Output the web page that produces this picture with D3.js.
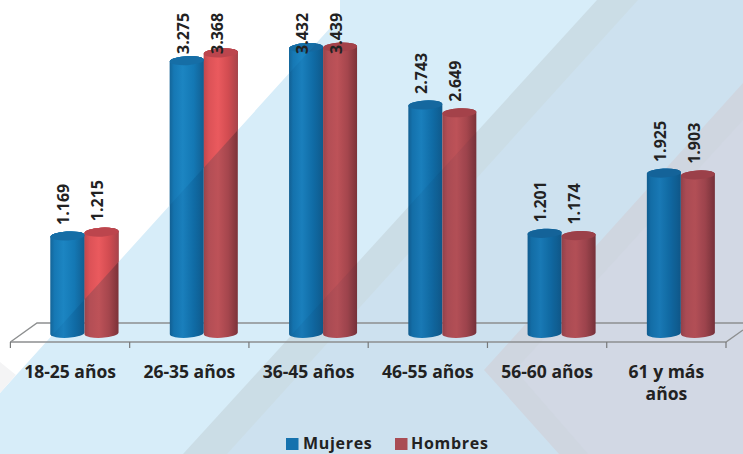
<!DOCTYPE html>
<html>
<head>
<meta charset="utf-8">
<script src="https://cdn.jsdelivr.net/npm/d3@7"></script>
<style>
  html, body { margin: 0; padding: 0; background: #fff; }
  svg { display: block; }
  text { font-family: "Open Sans", sans-serif; fill: #222; }
</style>
</head>
<body>
<div id="chart"></div>
<script>
const categories = ["18-25 años", "26-35 años", "36-45 años", "46-55 años", "56-60 años", "61 y más años"];
const mujeres = [1169, 3275, 3432, 2743, 1201, 1925];
const hombres = [1215, 3368, 3439, 2649, 1174, 1903];
const seriesNames = ["Mujeres", "Hombres"];

const w = 743;
const h = 454;
const depth = 14.5; // bars sit behind the front floor edge
const rx = 17;
const ry = 4.5;

const svg = d3.select("#chart").append("svg").attr("width", w).attr("height", h);
const defs = svg.append("defs");

// background shapes
const line = d3.line();
const whiteZone = [[0, 0], [340, 0], [340, 17], [0, 393]];
const bg = [
  { fill: "#d7edf9", pts: [[0, 393], [340, 17], [340, 0], [743, 0], [743, 454], [0, 454]] },
  { fill: "#f4f4f5", pts: [[0, 362], [16, 375], [0, 393]] },
  { fill: "#cbdde6", pts: [[183, 454], [597, 0], [743, 0], [743, 454]] },
  { fill: "#cde1ef", pts: [[227, 454], [638, 0], [743, 0], [743, 454]] },
  { fill: "#cfd6e0", pts: [[484, 370], [743, 83], [743, 454], [559, 454]] },
  { fill: "#d2d8e4", pts: [[515, 370], [743, 120], [743, 454], [588, 454]] },
];
svg.append("g").selectAll("path").data(bg).enter().append("path")
  .attr("d", (d) => line(d.pts) + "Z")
  .attr("fill", (d) => d.fill);

const x = d3.scaleBand().domain(categories).range([10.4, 726]);
const y = d3.scaleLinear().domain([0, 3439]).range([333.3, 47]);
const inner = d3.scaleBand().domain(seriesNames).range([-2 * rx, 2 * rx]);

// floor
const floorFront = 342;
const floorBack = 323;
const floor = svg.append("g").attr("fill", "none").attr("stroke", "#8d8f90").attr("stroke-width", 1.4);
floor.append("path").attr("d", line([[10.4, floorFront], [37, floorBack], [743, floorBack]]));
floor.append("path").attr("d", line([[10.4, floorFront], [726, floorFront], [743, 330]]));

const gradient = (id, stops) => {
  const g = defs.append("linearGradient").attr("id", id);
  g.selectAll("stop").data(stops).enter().append("stop")
    .attr("offset", (d) => d[0])
    .attr("stop-color", (d) => d[1]);
};
gradient("blue", [[0, "#125f92"], [0.12, "#1472ad"], [0.38, "#1a7fbc"], [0.7, "#106ca6"], [1, "#0f5a8c"]]);
gradient("red", [[0, "#99444b"], [0.15, "#b34e55"], [0.42, "#bd5258"], [0.72, "#a5464d"], [1, "#7c3239"]]);
gradient("blueBright", [[0, "#14669a"], [0.12, "#1678b4"], [0.38, "#1c85c2"], [0.7, "#1478b4"], [1, "#125f92"]]);
gradient("redBright", [[0, "#c2474d"], [0.15, "#dc5257"], [0.42, "#ea5a5e"], [0.72, "#d24c51"], [1, "#a8434a"]]);

const bars = [];
categories.forEach((c, i) => {
  bars.push({ c, s: 0, v: mujeres[i] });
  bars.push({ c, s: 1, v: hombres[i] });
});
const cx = (d) => x(d.c) + x.bandwidth() / 2 + depth + inner(seriesNames[d.s]) + inner.bandwidth() / 2;

const bodyPath = (d) => {
  const l = cx(d) - rx, r = cx(d) + rx, t = y(d.v), b = y(0);
  return `M${l},${t + 1}A${rx},${ry} -3 0 1 ${r},${t - 1}L${r},${b - 1}A${rx},${ry} -3 0 1 ${l},${b + 1}Z`;
};
const topPath = (d) => {
  const l = cx(d) - rx, r = cx(d) + rx, t = y(d.v);
  return `M${l},${t + 1}A${rx},${ry} -3 0 1 ${r},${t - 1}A${rx},${ry} -3 0 1 ${l},${t + 1}Z`;
};

const drawBars = (sel, names, tops) => {
  sel.selectAll("path.body").data(bars).enter().append("path")
    .attr("class", "body")
    .attr("d", bodyPath)
    .attr("fill", (d) => `url(#${names[d.s]})`);
  sel.selectAll("path.top").data(bars).enter().append("path")
    .attr("class", "top")
    .attr("d", topPath)
    .attr("fill", (d) => tops[d.s]);
};

drawBars(svg.append("g"), ["blue", "red"], ["#15689f", "#a4424a"]);

// bars look brighter where they cross the white part of the background
defs.append("clipPath").attr("id", "whiteClip").append("path").attr("d", line(whiteZone) + "Z");
drawBars(svg.append("g").attr("clip-path", "url(#whiteClip)"), ["blueBright", "redBright"], ["#166ea6", "#bc454d"]);

// and darker over the grey bands on the right
defs.append("clipPath").attr("id", "barClip").selectAll("path").data(bars).enter().append("path").attr("d", bodyPath);
svg.append("g").attr("clip-path", "url(#barClip)").append("path")
  .attr("d", line([[183, 454], [597, 0], [743, 0], [743, 454]]) + "Z")
  .attr("fill", "#102040")
  .attr("fill-opacity", 0.06);

// value labels
svg.append("g").selectAll("text").data(bars).enter().append("text")
  .attr("transform", (d) => `translate(${cx(d) - 4},${Math.max(54, y(d.v) - 11)}) rotate(-90)`)
  .attr("dy", "0.36em")
  .attr("font-size", 16)
  .attr("font-weight", 700)
  .text((d) => d3.format(".3f")(d.v / 1000));

// x axis, ticks go on the band edges
const axis = svg.append("g")
  .attr("transform", `translate(0,${floorFront})`)
  .call(d3.axisBottom(x).tickSize(0).tickPadding(24));
axis.select(".domain").remove();
axis.selectAll("text")
  .attr("font-size", 17.5)
  .attr("font-weight", 700)
  .style("font-family", '"Open Sans", sans-serif')
  .style("fill", "#222")
  .each(function (d) {
    const parts = d === "61 y más años" ? ["61 y más", "años"] : [d];
    const t = d3.select(this).text(null);
    parts.forEach((p, i) => {
      t.append("tspan").attr("x", 0).attr("dy", i ? 22 : "0.71em").text(p);
    });
  });
axis.selectAll("line.edge").data(d3.range(categories.length + 1)).enter().append("line")
  .attr("class", "edge")
  .attr("x1", (i) => x.range()[0] + i * x.step())
  .attr("x2", (i) => x.range()[0] + i * x.step())
  .attr("y2", 6)
  .attr("stroke", "#77797a")
  .attr("stroke-width", 1.2);

// legend
const legendX = [286, 395];
const legendColors = ["#1572ae", "#a94c54"];
const legend = svg.append("g").selectAll("g").data(seriesNames).enter().append("g")
  .attr("transform", (d, i) => `translate(${legendX[i]},438)`);
legend.append("rect").attr("width", 12.5).attr("height", 12).attr("fill", (d, i) => legendColors[i]);
legend.append("text")
  .attr("x", (d, i) => (i ? 16 : 17))
  .attr("y", 11)
  .attr("font-size", 16)
  .attr("font-weight", 700)
  .attr("letter-spacing", 0.7)
  .text((d) => d);
</script>
</body>
</html>
